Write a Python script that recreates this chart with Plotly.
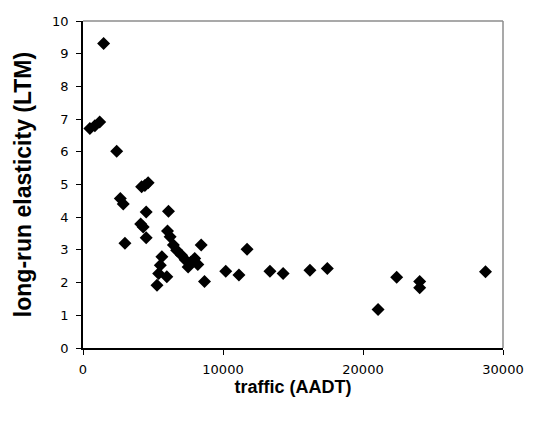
import plotly.graph_objects as go

traffic = [1474, 491, 850, 1193, 2407, 2667, 2877, 2996, 4189, 4420, 4653,
           4512, 4119, 4300, 4512, 6105, 6035, 6225, 6456, 6688, 7039, 7300,
           7509, 7700, 7979, 8200, 8442, 8681, 5635, 5523, 5404, 5284, 5986,
           10196, 11137, 11719, 13354, 14295, 16211, 17453, 21074, 22407,
           24049, 24049, 28751]
elasticity = [9.31, 6.71, 6.8, 6.91, 6.02, 4.57, 4.40, 3.20, 4.93, 4.97, 5.05,
              4.16, 3.79, 3.70, 3.37, 4.18, 3.58, 3.40, 3.15, 2.99, 2.84, 2.70,
              2.48, 2.62, 2.74, 2.55, 3.15, 2.03, 2.79, 2.53, 2.28, 1.92, 2.18,
              2.35, 2.23, 3.02, 2.35, 2.28, 2.38, 2.43, 1.18, 2.16,
              2.03, 1.84, 2.33]

x_ticks = [0, 10000, 20000, 30000]
y_ticks = list(range(0, 11))

fig = go.Figure()
fig.add_trace(go.Scatter(
    x=traffic, y=elasticity, mode="markers",
    marker=dict(symbol="diamond", size=10, color="black"),
    showlegend=False, cliponaxis=False,
))

font = "Liberation Sans, Arial, sans-serif"
fig.update_layout(
    width=536, height=421,
    margin=dict(l=83, r=26, t=21, b=73),
    paper_bgcolor="white", plot_bgcolor="white",
    font=dict(family=font, color="black", size=12),
    xaxis=dict(
        range=[0, 30000], tickvals=x_ticks, ticktext=[str(v) for v in x_ticks],
        showgrid=False, zeroline=False, showline=True, linecolor="black",
        linewidth=1.5, ticks="outside", ticklen=5, tickcolor="black",
        tickfont=dict(size=13, family="DejaVu Sans"), ticklabelstandoff=4,
        title=dict(text="<b>traffic (AADT)</b>", font=dict(size=18), standoff=3),
    ),
    yaxis=dict(
        range=[0, 10], tickvals=y_ticks,
        showgrid=False, zeroline=False, showline=True, linecolor="black",
        linewidth=1.5, ticks="outside", ticklen=5, tickcolor="black",
        tickfont=dict(size=13, family="DejaVu Sans"), ticklabelstandoff=5,
        title=dict(text="<b>long-run elasticity (LTM)</b>", font=dict(size=23), standoff=14),
    ),
    shapes=[
        dict(type="line", xref="paper", yref="paper", x0=0, x1=1, y0=1, y1=1,
             line=dict(color="#8c8c8c", width=1.5)),
        dict(type="line", xref="paper", yref="paper", x0=1, x1=1, y0=0, y1=1,
             line=dict(color="#8c8c8c", width=1.5)),
    ],
)

fig.write_html(
    "out.html",
    config={"displayModeBar": False},
    post_script="document.body.style.margin='0';document.body.style.overflow='hidden';",
)
